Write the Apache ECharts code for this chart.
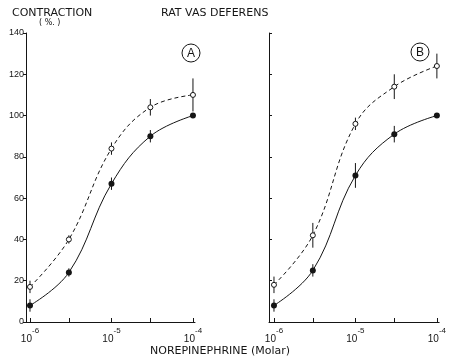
<!DOCTYPE html>
<html>
<head>
<meta charset="utf-8">
<script src="https://cdn.jsdelivr.net/npm/echarts@6/dist/echarts.min.js"></script>
<style>
  html, body { margin: 0; padding: 0; background: #fff; }
  #chart { width: 449px; height: 358px; }
</style>
</head>
<body>
<div id="chart"></div>
<script>
// norepinephrine concentration (molar)
var conc = [1e-6, 3e-6, 1e-5, 3e-5, 1e-4];
var xTicks = [1e-6, 3e-6, 1e-5, 3e-5, 1e-4];
var xLabels = [1e-6, 1e-5, 1e-4];

// panel A
var aOpen = [17, 40, 84, 104, 110];
var aOpenErr = [3, 2, 3, 4, 8];
var aFilled = [8, 24, 67, 90, 100];
var aFilledErr = [3, 2, 3, 3, 1];

// panel B
var bOpen = [18, 42, 96, 114, 124];
var bOpenErr = [4, 6, 3, 6, 6];
var bFilled = [8, 25, 71, 91, 100];
var bFilledErr = [3, 3, 6, 4, 1];

var FONT = 'Liberation Sans';
var TFONT = 'DejaVu Sans';
var INK = '#151515';

function lg(v) { return Math.log(v) / Math.LN10; }

function pts(ys) {
	return conc.map(function (c, i) { return [lg(c), ys[i]]; });
}
function errs(ys, e) {
	return conc.map(function (c, i) { return [lg(c), ys[i] - e[i], ys[i] + e[i]]; });
}

function errSeries(idx, ys, e) {
	return {
		type: 'custom',
		xAxisIndex: idx, yAxisIndex: idx,
		z: 1,
		data: errs(ys, e),
		renderItem: function (params, api) {
			var lo = api.coord([api.value(0), api.value(1)]);
			var hi = api.coord([api.value(0), api.value(2)]);
			return {
				type: 'line',
				shape: { x1: lo[0], y1: lo[1], x2: hi[0], y2: hi[1] },
				style: { stroke: INK, lineWidth: 1 }
			};
		}
	};
}

function lineSeries(idx, ys, open) {
	return {
		type: 'line',
		xAxisIndex: idx, yAxisIndex: idx,
		data: pts(ys),
		smooth: 0.4,
		symbol: 'circle',
		symbolSize: open ? 5 : 6,
		z: 3,
		itemStyle: open ? { color: '#fff', borderColor: INK, borderWidth: 1 } : { color: INK, borderWidth: 0 },
		lineStyle: { color: INK, width: 1, type: open ? [4, 3] : 'solid' },
		animation: false
	};
}

function xAxis(idx, min, max) {
	return {
		type: 'value', gridIndex: idx, min: min, max: max,
		splitLine: { show: false },
		axisLine: { onZero: false, lineStyle: { color: INK, width: 1 } },
		axisTick: { inside: true, length: 4, lineStyle: { color: INK }, customValues: xTicks.map(lg) },
		axisLabel: {
			customValues: xLabels.map(lg),
			margin: 5,
			formatter: function (v) { return '{b|10}{s|' + Math.round(v) + '}'; },
			rich: {
				b: { fontFamily: FONT, fontSize: 10, color: INK, verticalAlign: 'bottom', padding: [7, 0, 0, 0] },
				s: { fontFamily: FONT, fontSize: 8, color: INK, verticalAlign: 'top' }
			}
		}
	};
}

function yAxis(idx, showLabel) {
	return {
		type: 'value', gridIndex: idx, min: 0, max: 140, interval: 20,
		splitLine: { show: false },
		axisLine: { lineStyle: { color: INK, width: 1 } },
		axisTick: { inside: !showLabel, length: 3, lineStyle: { color: INK } },
		axisLabel: { show: showLabel, fontFamily: FONT, fontSize: 9, color: INK, margin: 2 }
	};
}

function circled(x, y, letter) {
	return [
		{ type: 'circle', shape: { cx: x, cy: y, r: 9 }, style: { fill: 'none', stroke: INK, lineWidth: 1 } },
		{ type: 'text', x: x, y: y + 1, style: { text: letter, font: '12px ' + FONT, fill: INK, align: 'center', verticalAlign: 'middle' } }
	];
}

var chart = echarts.init(document.getElementById('chart'));

chart.setOption({
	animation: false,
	backgroundColor: '#fff',
	grid: [
		{ left: 26, top: 33, width: 169, height: 289 },
		{ left: 269, top: 33, width: 171, height: 289 }
	],
	xAxis: [ xAxis(0, -6.049, -3.975), xAxis(1, -6.061, -3.972) ],
	yAxis: [ yAxis(0, true), yAxis(1, false) ],
	series: [
		errSeries(0, aOpen, aOpenErr),
		errSeries(0, aFilled, aFilledErr),
		lineSeries(0, aOpen, true),
		lineSeries(0, aFilled, false),
		errSeries(1, bOpen, bOpenErr),
		errSeries(1, bFilled, bFilledErr),
		lineSeries(1, bOpen, true),
		lineSeries(1, bFilled, false)
	],
	graphic: [
		{ type: 'text', left: 12, top: 8, style: { text: 'CONTRACTION', font: '11px ' + TFONT, fill: INK } },
		{ type: 'text', left: 39, top: 19, style: { text: '( %. )', font: '8px ' + TFONT, fill: INK } },
		{ type: 'text', left: 161, top: 8, style: { text: 'RAT VAS DEFERENS', font: '11px ' + TFONT, fill: INK } },
		{ type: 'text', left: 150, top: 346, style: { text: 'NOREPINEPHRINE (Molar)', font: '11px ' + TFONT, fill: INK } }
	].concat(circled(191, 53, 'A'), circled(420, 52, 'B'))
});
</script>
</body>
</html>
